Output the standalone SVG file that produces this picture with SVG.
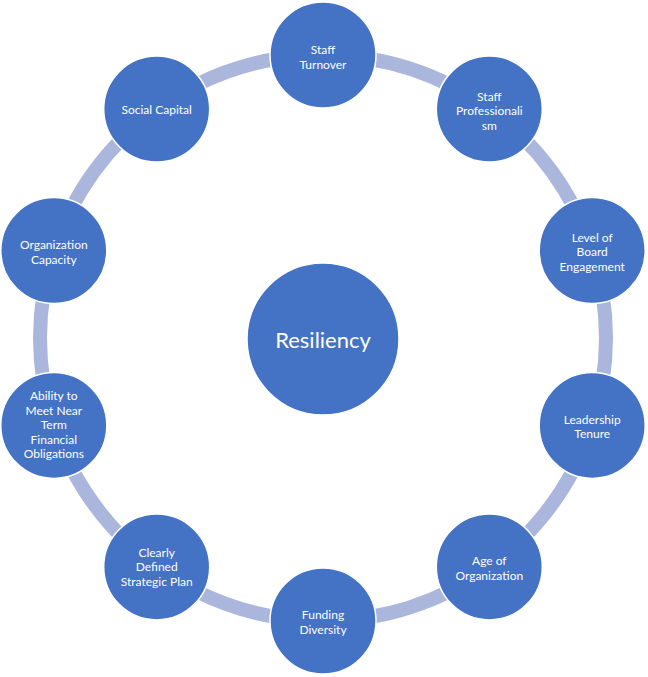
<svg xmlns="http://www.w3.org/2000/svg" width="648" height="677" viewBox="0 0 648 677">
<style>
.arc{fill:none;stroke:#AAB6DB;stroke-width:14;stroke-linecap:butt}
.node{fill:#4472C4;stroke:#FFFFFF;stroke-width:1.5}
.lbl{font-family:Lato,"Open Sans","Liberation Sans",sans-serif;font-size:12px;fill:#FFFFFF;text-anchor:middle}
.big{font-family:Lato,"Open Sans","Liberation Sans",sans-serif;font-size:22px;fill:#FFFFFF;text-anchor:middle}
</style>
<rect width="648" height="677" fill="#FFFFFF"/>
<g id="connectors">
<path class="arc" d="M367.3,58.5 A283,283 0 0 1 451.5,85.8"/>
<path class="arc" d="M523.1,137.9 A283,283 0 0 1 575.2,209.5"/>
<path class="arc" d="M602.5,293.7 A283,283 0 0 1 602.5,382.3"/>
<path class="arc" d="M575.2,466.5 A283,283 0 0 1 523.1,538.1"/>
<path class="arc" d="M451.5,590.2 A283,283 0 0 1 367.3,617.5"/>
<path class="arc" d="M278.7,617.5 A283,283 0 0 1 194.5,590.2"/>
<path class="arc" d="M122.9,538.1 A283,283 0 0 1 70.8,466.5"/>
<path class="arc" d="M43.5,382.3 A283,283 0 0 1 43.5,293.7"/>
<path class="arc" d="M70.8,209.5 A283,283 0 0 1 122.9,137.9"/>
<path class="arc" d="M194.5,85.8 A283,283 0 0 1 278.7,58.5"/>
</g>
<g id="resiliency">
<circle class="node" cx="323" cy="339" r="76"/>
<text class="big" x="323" y="347.5">Resiliency</text>
</g>
<g id="staff-turnover">
<circle class="node" cx="323" cy="55" r="53"/>
<text class="lbl" x="323" y="54">Staff</text>
<text class="lbl" x="323" y="68.5">Turnover</text>
</g>
<g id="staff-professionalism">
<circle class="node" cx="489.3" cy="109.1" r="53"/>
<text class="lbl" x="489.3" y="100.7">Staff</text>
<text class="lbl" x="489.3" y="115.2">Professionali</text>
<text class="lbl" x="489.3" y="129.7">sm</text>
</g>
<g id="board-engagement">
<circle class="node" cx="592.2" cy="250.6" r="53"/>
<text class="lbl" x="592.2" y="241.7">Level of</text>
<text class="lbl" x="592.2" y="256.2">Board</text>
<text class="lbl" x="592.2" y="270.7">Engagement</text>
</g>
<g id="leadership-tenure">
<circle class="node" cx="592.2" cy="425.4" r="53"/>
<text class="lbl" x="592.2" y="423.5">Leadership</text>
<text class="lbl" x="592.2" y="438">Tenure</text>
</g>
<g id="age-of-organization">
<circle class="node" cx="489.3" cy="566.9" r="53"/>
<text class="lbl" x="489.3" y="565">Age of</text>
<text class="lbl" x="489.3" y="579.5">Organization</text>
</g>
<g id="funding-diversity">
<circle class="node" cx="323" cy="621" r="53"/>
<text class="lbl" x="323" y="619">Funding</text>
<text class="lbl" x="323" y="633.5">Diversity</text>
</g>
<g id="strategic-plan">
<circle class="node" cx="156.7" cy="566.9" r="53"/>
<text class="lbl" x="156.7" y="556.7">Clearly</text>
<text class="lbl" x="156.7" y="571.2">Defined</text>
<text class="lbl" x="156.7" y="585.7">Strategic Plan</text>
</g>
<g id="financial-obligations">
<circle class="node" cx="53.8" cy="425.4" r="53"/>
<text class="lbl" x="53.8" y="400.2">Ability to</text>
<text class="lbl" x="53.8" y="414.7">Meet Near</text>
<text class="lbl" x="53.8" y="429.2">Term</text>
<text class="lbl" x="53.8" y="443.7">Financial</text>
<text class="lbl" x="53.8" y="458.2">Obligations</text>
</g>
<g id="organization-capacity">
<circle class="node" cx="53.8" cy="250.6" r="53"/>
<text class="lbl" x="53.8" y="249">Organization</text>
<text class="lbl" x="53.8" y="263.5">Capacity</text>
</g>
<g id="social-capital">
<circle class="node" cx="156.7" cy="109.1" r="53"/>
<text class="lbl" x="156.7" y="114.2">Social Capital</text>
</g>
</svg>
